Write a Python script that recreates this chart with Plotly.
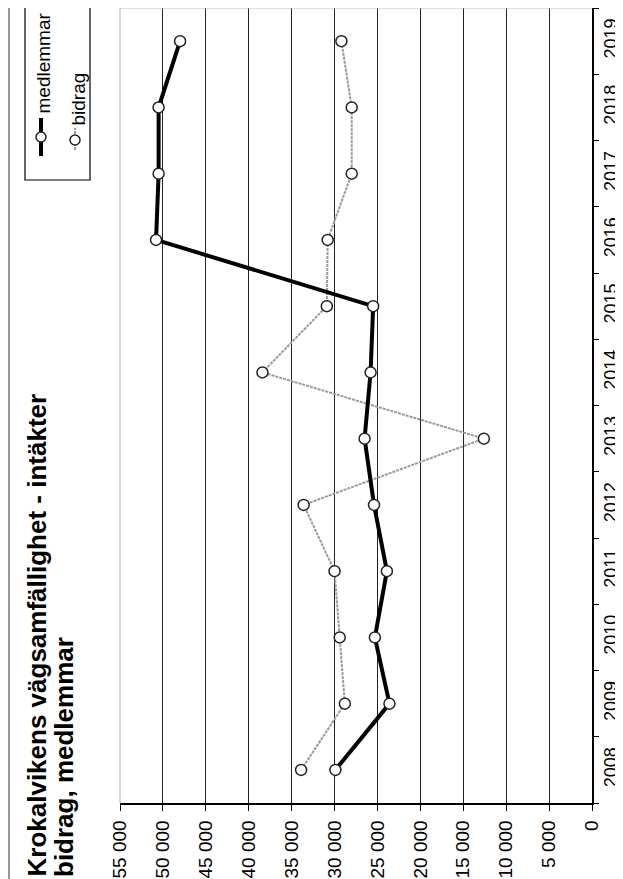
import plotly.graph_objects as go

years = ["2008", "2009", "2010", "2011", "2012", "2013", "2014", "2015", "2016", "2017", "2018", "2019"]
medlemmar = [29900, 23600, 25300, 23900, 25400, 26500, 25800, 25500, 50800, 50500, 50500, 48000]
bidrag = [33900, 28800, 29400, 30000, 33600, 12600, 38400, 30900, 30800, 28000, 28000, 29200]
value_ticks = [0, 5000, 10000, 15000, 20000, 25000, 30000, 35000, 40000, 45000, 50000, 55000]
value_labels = ["0", "5 000", "10 000", "15 000", "20 000", "25 000", "30 000", "35 000",
                "40 000", "45 000", "50 000", "55 000"]
title_lines = ["Krokalvikens vägsamfällighet - intäkter", "bidrag, medlemmar"]
series_names = ["medlemmar", "bidrag"]

W, H = 623, 879
L, R, T, B = 112, 584, 0, 795  # plot area in pixels

FONT = "Liberation Sans Narrow, Arial Narrow, Liberation Sans, Arial, sans-serif"


def px(x):
    return (x - L) / (R - L)


def py(y):
    return (B - y) / (B - T)


fig = go.Figure()
fig.add_trace(go.Scatter(
    x=bidrag, y=years, name=series_names[1], mode="lines+markers",
    line=dict(color="#9a9a9a", width=2, dash="3px,1px"),
    marker=dict(symbol="circle", size=11, color="white", line=dict(color="#222", width=1.5)),
))
fig.add_trace(go.Scatter(
    x=medlemmar, y=years, name=series_names[0], mode="lines+markers",
    line=dict(color="black", width=4),
    marker=dict(symbol="circle", size=11, color="white", line=dict(color="#222", width=1.5)),
))

shapes = []
# plot area light border (left = top of original chart)
shapes.append(dict(type="line", xref="paper", yref="paper", x0=0, x1=0, y0=0, y1=1,
                   line=dict(color="#bdbdbd", width=1.2)))
shapes.append(dict(type="line", xref="paper", yref="paper", x0=0, x1=1, y0=1, y1=1,
                   line=dict(color="#bdbdbd", width=1.2)))
# outer frame left
shapes.append(dict(type="line", xref="paper", yref="paper", x0=px(1), x1=px(1), y0=py(879), y1=py(0),
                   line=dict(color="#777", width=1.5)))
# legend box
shapes.append(dict(type="rect", xref="paper", yref="paper", x0=px(17), x1=px(82), y0=py(172), y1=py(-5),
                   line=dict(color="black", width=1.2), fillcolor="white"))
# legend samples
shapes.append(dict(type="line", xref="paper", yref="paper", x0=px(33), x1=px(33), y0=py(148), y1=py(110),
                   line=dict(color="black", width=4)))
shapes.append(dict(type="circle", xref="paper", yref="paper", x0=px(28), x1=px(38), y0=py(134), y1=py(124),
                   line=dict(color="#222", width=1.5), fillcolor="white"))
shapes.append(dict(type="line", xref="paper", yref="paper", x0=px(67), x1=px(67), y0=py(142), y1=py(120),
                   line=dict(color="#9a9a9a", width=2, dash="3px,1px")))
shapes.append(dict(type="circle", xref="paper", yref="paper", x0=px(62), x1=px(72), y0=py(137), y1=py(127),
                   line=dict(color="#222", width=1.5), fillcolor="white"))

annotations = [
    dict(text=title_lines[0], textangle=-90, xref="paper", yref="paper", x=px(28), y=py(871),
         xanchor="center", yanchor="bottom", showarrow=False,
         font=dict(family=FONT, size=26, color="black", weight="bold")),
    dict(text=title_lines[1], textangle=-90, xref="paper", yref="paper", x=px(56), y=py(871),
         xanchor="center", yanchor="bottom", showarrow=False,
         font=dict(family=FONT, size=26, color="black", weight="bold")),
    dict(text=series_names[0], textangle=-90, xref="paper", yref="paper", x=px(35), y=py(108),
         xanchor="center", yanchor="bottom", showarrow=False,
         font=dict(family=FONT, size=19, color="black")),
    dict(text=series_names[1], textangle=-90, xref="paper", yref="paper", x=px(70), y=py(120),
         xanchor="center", yanchor="bottom", showarrow=False,
         font=dict(family=FONT, size=19, color="black")),
]

fig.update_layout(
    width=W, height=H,
    margin=dict(l=L, r=W - R, t=T, b=H - B, pad=0),
    paper_bgcolor="white", plot_bgcolor="white",
    showlegend=False,
    font=dict(family=FONT, color="black"),
    shapes=shapes, annotations=annotations,
    xaxis=dict(
        range=[55000, 0], tickvals=value_ticks, ticktext=value_labels, tickangle=-90,
        showgrid=True, gridcolor="#222222", gridwidth=1.3, zeroline=False,
        showline=True, linecolor="black", linewidth=1.5,
        ticks="outside", ticklen=6, tickcolor="black", tickwidth=1.2,
        tickfont=dict(family=FONT, size=19, color="black"), ticklabelstandoff=2,
    ),
    yaxis=dict(
        type="category", categoryorder="array", categoryarray=years, range=[-0.5, 11.5],
        side="right", tickangle=-90, tickson="boundaries",
        showgrid=False, zeroline=False,
        showline=True, linecolor="black", linewidth=1.5,
        ticks="outside", ticklen=5, tickcolor="black", tickwidth=1.2,
        tickfont=dict(family=FONT, size=18, color="black"), ticklabelstandoff=2,
    ),
)

fig.write_html("out.html")
